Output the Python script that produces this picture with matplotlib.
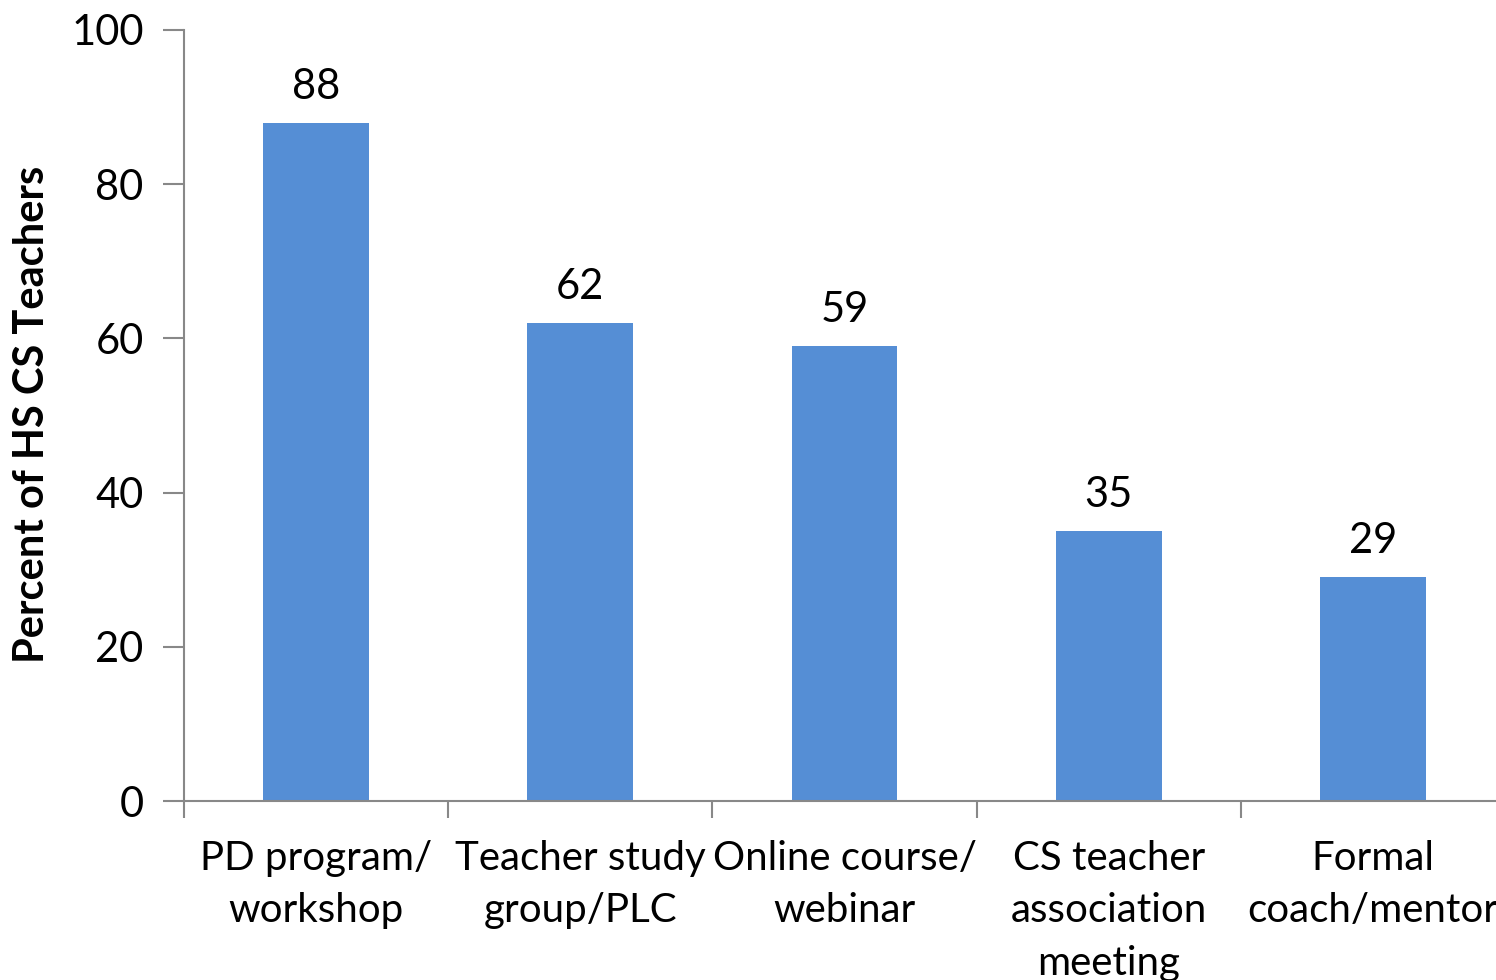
import matplotlib.pyplot as plt

categories = ['PD program/\nworkshop', 'Teacher study\ngroup/PLC', 'Online course/\nwebinar',
              'CS teacher\nassociation\nmeeting', 'Formal\ncoach/mentor']
values = [88, 62, 59, 35, 29]

plt.rcParams['font.family'] = ['Lato', 'DejaVu Sans']

fig = plt.figure(figsize=(14.96, 9.8), dpi=100)
ax = fig.add_axes([184 / 1496, 1 - 801 / 980, (1505 - 184) / 1496, (801 - 30) / 980])

x = range(len(categories))
bars = ax.bar(x, values, width=0.4, color='#558ED5', zorder=2)
for xi, v in zip(x, values):
    ax.text(xi, v + 2.2, str(v), ha='center', va='bottom', fontsize=30)

ax.set_xlim(-0.5, len(categories) - 0.5)
ax.set_ylim(0, 100)
ax.set_yticks(range(0, 101, 20))
ax.set_xticks(x)
ax.set_xticklabels(categories, fontsize=29, linespacing=1.52)
ax.set_xticks([i - 0.5 for i in range(len(categories) + 1)], minor=True)
ax.tick_params(axis='x', which='major', length=0, pad=28)
ax.tick_params(axis='x', which='minor', length=12, width=1.5, color='#888888', direction='out')
ax.tick_params(axis='y', labelsize=30, length=15, width=1.5, color='#888888', pad=14)

for s in ['top', 'right']:
    ax.spines[s].set_visible(False)
for s in ['left', 'bottom']:
    ax.spines[s].set_color('#888888')
    ax.spines[s].set_linewidth(1.5)

# y label placed in figure coordinates so it stays inside the canvas
fig.text(32 / 1496, 1 - 414 / 980, 'Percent of HS CS Teachers', rotation=90,
         ha='center', va='center', fontsize=30, fontweight='bold')

fig.savefig('out.png', dpi=100)
